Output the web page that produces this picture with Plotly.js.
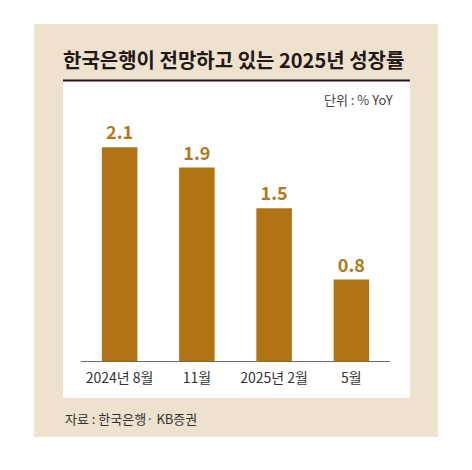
<!DOCTYPE html>
<html>
<head>
<meta charset="utf-8">
<script src="https://cdn.plot.ly/plotly-3.0.1.min.js"></script>
<style>
  html, body { margin: 0; padding: 0; background: #ffffff; }
  #chart { width: 472px; height: 470px; }
</style>
</head>
<body>
<div id="chart"></div>
<script>
// ---- data ----
var categories = ['2024년 8월', '11월', '2025년 2월', '5월'];
var growthValues = [2.1, 1.9, 1.5, 0.8];
var titleText = '한국은행이 전망하고 있는 2025년 성장률';
var unitText = '단위 : % YoY';
var sourceText = '자료 : 한국은행· KB증권';

// ---- layout geometry (pixels) ----
var W = 472, H = 470;
var plotL = 81, plotR = 390, plotT = 130, plotB = 361;
var pw = plotR - plotL, ph = plotB - plotT;
function px(x) { return (x - plotL) / pw; }
function py(y) { return (plotB - y) / ph; }

var FONT = '"Noto Sans CJK KR", "Noto Sans", sans-serif';
var barColor = '#B07414';
var beige = '#EEE2CE';

var trace = {
  type: 'bar',
  x: categories,
  y: growthValues,
  marker: { color: barColor, line: { width: 0 } },
  text: growthValues.map(function (v) { return v.toFixed(1); }),
  textposition: 'outside',
  textfont: { family: FONT, size: 18, color: '#B2781A', weight: 'bold' },
  cliponaxis: false,
  hoverinfo: 'x+y'
};

var layout = {
  width: W,
  height: H,
  margin: { l: plotL, r: W - plotR, t: plotT, b: H - plotB, pad: 0 },
  paper_bgcolor: '#ffffff',
  plot_bgcolor: 'rgba(0,0,0,0)',
  bargap: 0.54,
  showlegend: false,
  font: { family: FONT, color: '#333333' },
  title: {
    text: '<b>' + titleText + '</b>',
    font: { family: FONT, size: 20, color: '#231815' },
    xref: 'container', yref: 'container',
    x: 63 / W, xanchor: 'left',
    y: 1 - 61 / H, yanchor: 'middle'
  },
  xaxis: {
    type: 'category',
    showline: true,
    linecolor: '#6b6b6b',
    linewidth: 1,
    ticks: '',
    ticklabelstandoff: 4,
    showgrid: false,
    zeroline: false,
    tickfont: { family: FONT, size: 14, color: '#333333' },
    fixedrange: true
  },
  yaxis: {
    range: [0, ph / 101.8],
    visible: false,
    showgrid: false,
    zeroline: false,
    fixedrange: true
  },
  shapes: [
    { type: 'rect', xref: 'paper', yref: 'paper', layer: 'below',
      x0: px(34), x1: px(438), y0: py(437), y1: py(24),
      fillcolor: beige, line: { width: 0 } },
    { type: 'rect', xref: 'paper', yref: 'paper', layer: 'below',
      x0: px(63), x1: px(410), y0: py(398), y1: py(81),
      fillcolor: '#ffffff', line: { width: 0 } },
    { type: 'line', xref: 'paper', yref: 'paper', layer: 'above',
      x0: px(63), x1: px(410), y0: py(80.5), y1: py(80.5),
      line: { color: '#231815', width: 2 } }
  ],
  annotations: [
    { xref: 'paper', yref: 'paper', x: px(395), y: py(100),
      xanchor: 'right', yanchor: 'middle', showarrow: false,
      text: unitText, font: { family: FONT, size: 13, color: '#444444' } },
    { xref: 'paper', yref: 'paper', x: px(63), y: py(418),
      xanchor: 'left', yanchor: 'middle', showarrow: false,
      text: sourceText, font: { family: FONT, size: 13, color: '#333333' } }
  ]
};

Plotly.newPlot('chart', [trace], layout, { displayModeBar: false });
</script>
</body>
</html>
